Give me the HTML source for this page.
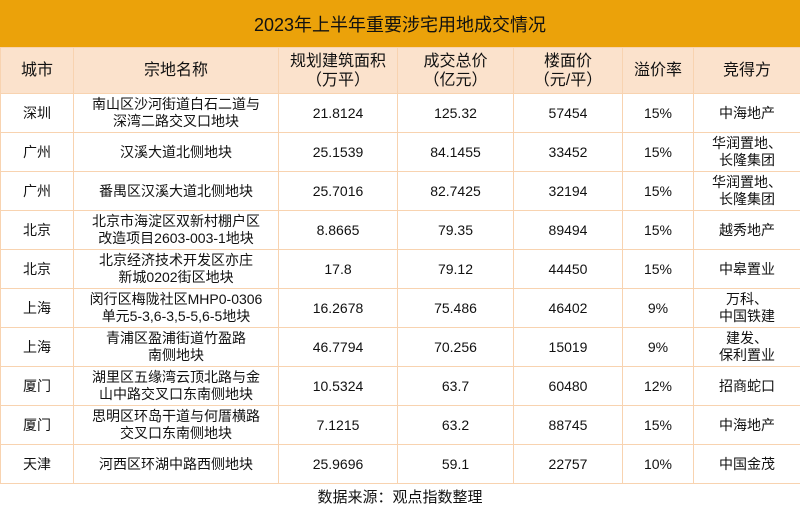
<!DOCTYPE html>
<html><head><meta charset="utf-8"><style>
body{margin:0;width:800px;height:520px;overflow:hidden;background:#fff;font-family:"Liberation Sans","Noto Sans CJK SC",sans-serif;color:#111}
#title{position:absolute;left:0;top:0;width:800px;height:47px;background:#EBA20A;display:flex;align-items:center;justify-content:center;font-size:18px}
table{position:absolute;left:0;top:47px;border-collapse:collapse;table-layout:fixed;width:800px}
td,th{border:1px solid #F8D3B0;text-align:center;padding:0;line-height:17px;font-size:14px;font-weight:normal}
th{background:#FBE2CC;height:45px;font-size:16px;line-height:19px}
td{height:38px}
#foot{position:absolute;left:0;top:486px;width:800px;height:24px;text-align:center;font-size:15px;line-height:24px}
</style></head><body>
<div id="title">2023年上半年重要涉宅用地成交情况</div>
<table>
<colgroup><col style="width:73px"><col style="width:205px"><col style="width:119px"><col style="width:116px"><col style="width:109px"><col style="width:71px"><col style="width:107px"></colgroup>
<tr><th>城市</th><th>宗地名称</th><th>规划建筑面积<br>（万平）</th><th>成交总价<br>（亿元）</th><th>楼面价<br>（元/平）</th><th>溢价率</th><th>竞得方</th></tr>
<tr><td>深圳</td><td>南山区沙河街道白石二道与<br>深湾二路交叉口地块</td><td>21.8124</td><td>125.32</td><td>57454</td><td>15%</td><td>中海地产</td></tr>
<tr><td>广州</td><td>汉溪大道北侧地块</td><td>25.1539</td><td>84.1455</td><td>33452</td><td>15%</td><td>华润置地、<br>长隆集团</td></tr>
<tr><td>广州</td><td>番禺区汉溪大道北侧地块</td><td>25.7016</td><td>82.7425</td><td>32194</td><td>15%</td><td>华润置地、<br>长隆集团</td></tr>
<tr><td>北京</td><td>北京市海淀区双新村棚户区<br>改造项目2603-003-1地块</td><td>8.8665</td><td>79.35</td><td>89494</td><td>15%</td><td>越秀地产</td></tr>
<tr><td>北京</td><td>北京经济技术开发区亦庄<br>新城0202街区地块</td><td>17.8</td><td>79.12</td><td>44450</td><td>15%</td><td>中皋置业</td></tr>
<tr><td>上海</td><td>闵行区梅陇社区MHP0-0306<br>单元5-3,6-3,5-5,6-5地块</td><td>16.2678</td><td>75.486</td><td>46402</td><td>9%</td><td>万科、<br>中国铁建</td></tr>
<tr><td>上海</td><td>青浦区盈浦街道竹盈路<br>南侧地块</td><td>46.7794</td><td>70.256</td><td>15019</td><td>9%</td><td>建发、<br>保利置业</td></tr>
<tr><td>厦门</td><td>湖里区五缘湾云顶北路与金<br>山中路交叉口东南侧地块</td><td>10.5324</td><td>63.7</td><td>60480</td><td>12%</td><td>招商蛇口</td></tr>
<tr><td>厦门</td><td>思明区环岛干道与何厝横路<br>交叉口东南侧地块</td><td>7.1215</td><td>63.2</td><td>88745</td><td>15%</td><td>中海地产</td></tr>
<tr><td>天津</td><td>河西区环湖中路西侧地块</td><td>25.9696</td><td>59.1</td><td>22757</td><td>10%</td><td>中国金茂</td></tr>
</table>
<div id="foot">数据来源：观点指数整理</div>
</body></html>
